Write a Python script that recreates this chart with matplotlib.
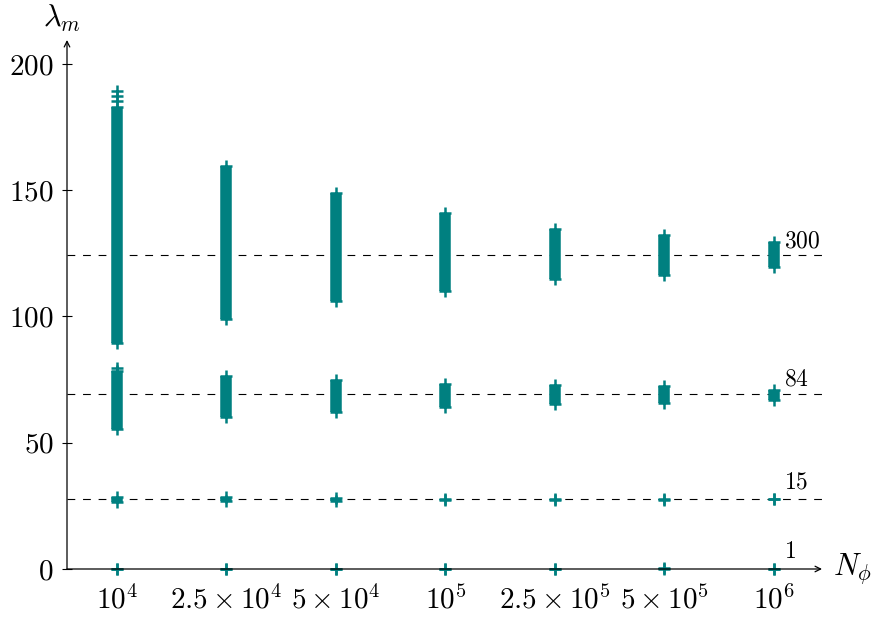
import numpy as np
import matplotlib
matplotlib.use("Agg")
import matplotlib.pyplot as plt

plt.rcParams['mathtext.fontset'] = 'cm'
plt.rcParams['font.family'] = 'serif'
plt.rcParams['font.serif'] = ['cmr10', 'DejaVu Serif']
plt.rcParams['axes.formatter.use_mathtext'] = True

TEAL = '#008080'

# categories (N_phi)
x_labels = [r'$10^4$', r'$2.5\times10^4$', r'$5\times10^4$', r'$10^5$',
            r'$2.5\times10^5$', r'$5\times10^5$', r'$10^6$']

# eigenvalue clusters: lower / upper edge per N_phi
top_lo = [89.5, 99.0, 106.0, 110.2, 114.8, 116.4, 119.7]
top_hi = [183.0, 159.5, 148.8, 140.9, 134.7, 132.3, 129.6]
mid_lo = [55.5, 60.1, 62.3, 64.3, 65.2, 65.6, 66.9]
mid_hi = [78.5, 76.4, 74.9, 73.3, 72.9, 72.6, 70.9]
low_lo = [26.6, 26.8, 27.1, 27.3, 27.5, 27.5, 27.55]
low_hi = [28.6, 28.4, 28.1, 27.9, 27.7, 27.7, 27.65]
zero_lo = [0.0, 0.0, 0.0, 0.0, 0.0, 0.0, 0.0]
zero_hi = [0.0, 0.0, 0.0, 0.0, 0.0, 0.3, 0.0]

# isolated points at N_phi = 1e4
extra_x = [0, 0, 0, 0]
extra_y = [185.5, 187.5, 189.5, 79.5]

# limits (dashed lines) and their multiplicities
limit_y = [124.5, 69.2, 27.6]
limit_txt = ['300', '84', '15', '1']
limit_txt_y = [129.9, 75.2, 34.1, 6.7]

x = np.arange(len(x_labels))

fig = plt.figure(figsize=(8.73, 6.17), dpi=100)
ax = fig.add_axes([67 / 873, 48 / 617, 755 / 873, 529 / 617])
ax.set_xlim(-0.457, 6.44)
ax.set_ylim(0, 209.5)

for yv in limit_y:
    ax.axhline(yv, color='k', lw=0.8, dashes=(7, 7), zorder=1)

for lo, hi in [(top_lo, top_hi), (mid_lo, mid_hi), (low_lo, low_hi), (zero_lo, zero_hi)]:
    ax.vlines(x, lo, hi, color=TEAL, lw=8.3, capstyle='butt', zorder=3, clip_on=False)
    ax.plot(x, lo, '+', color=TEAL, ms=8.5, mew=1.8, zorder=3, clip_on=False)
    ax.plot(x, hi, '+', color=TEAL, ms=8.5, mew=1.8, zorder=3, clip_on=False)
ax.plot(extra_x, extra_y, '+', color=TEAL, ms=8.5, mew=1.8, zorder=3, clip_on=False)

for ty, t in zip(limit_txt_y, limit_txt):
    ax.text(6.09, ty, '$' + t + '$', fontsize=17, ha='left', va='center')

# axes with arrows
for s in ax.spines.values():
    s.set_visible(False)
ax.annotate('', xy=(1, 0), xytext=(0, 0), xycoords='axes fraction',
            arrowprops=dict(arrowstyle='->', lw=0.9, color='k', shrinkA=0, shrinkB=0))
ax.annotate('', xy=(0, 1), xytext=(0, 0), xycoords='axes fraction',
            arrowprops=dict(arrowstyle='->', lw=0.9, color='k', shrinkA=0, shrinkB=0))

ax.set_xticks(x)
ax.set_xticklabels(x_labels, fontsize=21)
ax.set_yticks([0, 50, 100, 150, 200])
ax.set_yticklabels(['$0$', '$50$', '$100$', '$150$', '$200$'], fontsize=21)
ax.tick_params(axis='y', direction='inout', length=7, width=0.8, pad=6)
ax.tick_params(axis='x', length=0, pad=12)

ax.text(-0.007, 1.012, r'$\lambda_m$', transform=ax.transAxes, fontsize=22,
        ha='center', va='bottom')
ax.text(1.014, 0.0, r'$N_\phi$', transform=ax.transAxes, fontsize=22,
        ha='left', va='center')

fig.savefig('out.png', dpi=100)
